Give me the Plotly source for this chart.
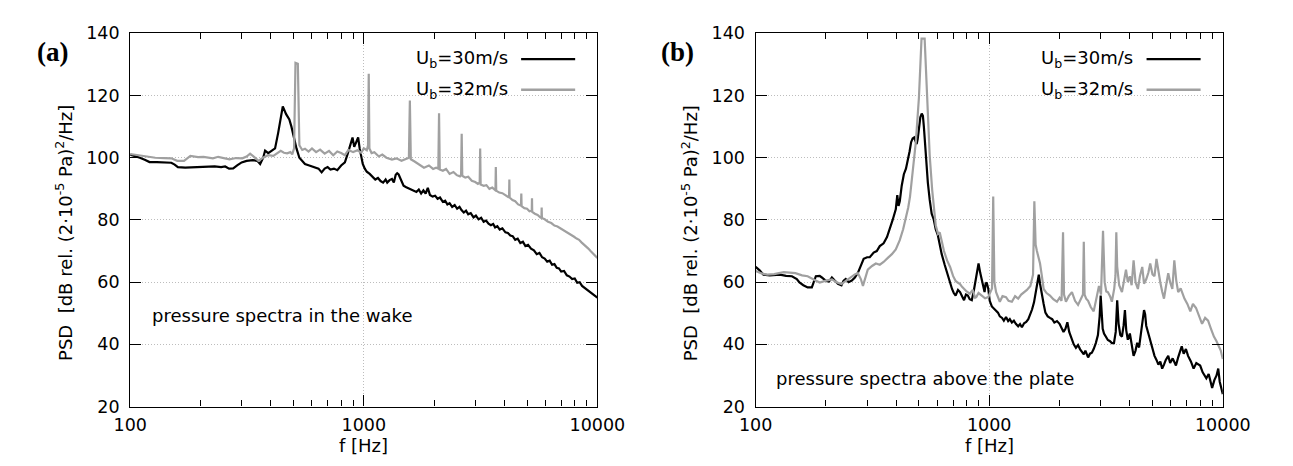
import plotly.graph_objects as go

# ---------------- data ----------------
# panel (a): pressure spectra in the wake
fa_30 = [100,105,110,116,121,130,140,150,155,160,172,185,200,215,230,245,255,265,276,288,300,315,335,350,360,371,378,390,400,417,430,440,450,465,480,490,500,515,530,545,560,580,600,620,640,660,680,700,720,745,770,800,830,855,875,895,910,930,946,960,975,990,1010,1030,1060,1090,1120,1150,1180,1210,1240,1260,1290,1320,1345,1370,1390,1410,1440,1480,1520,1570,1620,1680,1720,1760,1800,1840,1880,1920,1970,2020,2070,2120,2180,2230,2280,2330,2390,2450,2510,2570,2620,2680,2740,2800,2870,2950,3020,3100,3180,3260,3340,3420,3500,3580,3650,3730,3820,3920,4040,4140,4240,4340,4450,4560,4680,4800,4920,5050,5200,5350,5500,5650,5800,5950,6100,6250,6400,6550,6700,6850,7000,7200,7400,7600,7800,8000,8200,8400,8600,8800,9000,9200,9400,9600,9800,10000]
pa_30 = [101.0,100.6,100.0,99.3,98.6,98.6,98.5,98.4,97.8,97.0,96.8,96.9,96.8,97.0,97.2,97.0,97.2,96.5,96.6,97.6,98.5,99.0,99.2,99.0,98.0,100.0,102.3,101.5,102.0,103.0,108.0,113.0,116.5,114.0,112.3,110.0,107.0,103.0,100.0,99.0,98.0,97.6,97.3,97.0,96.5,95.3,96.5,97.0,96.2,96.5,96.0,97.5,98.5,101.5,104.0,106.5,103.5,105.5,106.5,103.0,100.2,98.0,96.5,95.5,94.8,94.0,93.0,93.5,92.5,92.0,93.0,92.0,92.8,93.2,92.0,94.5,95.0,94.6,93.0,91.0,90.5,90.0,89.5,89.0,89.8,88.5,89.5,88.5,90.3,88.0,87.5,87.8,86.8,87.2,85.8,86.2,85.0,85.4,84.2,84.8,83.6,84.2,83.2,82.4,83.0,81.8,82.2,80.8,81.4,80.2,80.7,79.4,79.8,78.8,78.3,78.7,77.6,78.0,76.9,77.3,76.0,75.8,75.0,74.8,73.6,74.0,72.6,73.0,71.6,72.0,70.8,70.2,69.0,69.4,68.0,67.6,66.6,66.9,65.6,65.8,64.6,64.4,63.4,63.6,62.2,61.8,61.0,61.2,59.8,60.0,58.8,58.2,57.6,57.0,56.6,56.0,55.6,55.0]

fa_32 = [100,109,118,128,140,150,159,170,181,195,206,216,226,238,250,266,284,302,315,326,340,354,370,389,410,425,441,455,470,485,494,503,510,522,530,545,560,580,600,625,650,680,710,740,770,800,830,860,900,940,975,1000,1030,1043,1050,1057,1080,1110,1160,1200,1250,1320,1380,1450,1520,1560,1575,1590,1650,1720,1810,1900,1980,2040,2085,2100,2115,2180,2250,2330,2420,2500,2580,2610,2625,2640,2720,2800,2900,3000,3080,3135,3150,3165,3260,3350,3450,3550,3650,3663,3675,3690,3800,3920,4050,4150,4188,4200,4212,4330,4450,4580,4710,4725,4740,4870,5000,5120,5238,5250,5262,5400,5550,5700,5763,5775,5790,5950,6150,6350,6550,6750,6950,7150,7350,7550,7750,7950,8150,8350,8550,8750,8950,9150,9350,9550,9750,10000]
pa_32 = [101.2,100.8,100.5,100.0,99.9,99.8,99.0,99.0,100.6,100.2,100.3,100.0,99.8,100.3,100.0,99.5,99.9,99.8,100.4,101.3,100.2,99.0,100.0,100.8,100.6,101.3,102.2,101.6,101.4,101.8,101.1,103.0,130.5,130.2,104.0,102.5,102.9,102.0,103.0,101.8,102.6,101.3,102.2,100.8,102.0,101.5,100.8,102.5,101.8,102.4,101.6,103.0,102.4,104.0,127.0,103.0,101.5,101.8,100.4,101.0,100.0,99.4,99.8,99.0,99.6,100.0,118.4,99.5,98.8,98.0,96.8,97.5,96.4,96.8,96.5,114.3,96.2,95.8,96.4,94.8,95.4,94.4,94.0,94.6,107.7,94.2,93.6,93.9,92.6,92.2,91.6,92.0,103.0,91.4,91.0,91.2,90.0,90.4,89.6,90.0,97.0,89.4,88.8,88.6,87.8,87.4,87.5,93.0,87.2,86.4,86.0,85.0,84.6,88.5,84.4,83.8,83.6,82.8,83.0,87.0,82.6,82.0,81.6,80.8,81.0,84.0,80.6,80.2,79.4,79.0,78.2,77.9,77.3,77.0,76.4,75.8,75.2,74.6,74.0,73.6,72.8,72.2,71.4,70.8,70.0,69.4,68.6,67.8]

# panel (b): pressure spectra above the plate
fb_30 = [100,104,108,115,127,135,143,150,154,160,167,174,181,188,192,200,206,212,218,225,233,238,243,250,258,266,274,282,290,300,308,320,330,340,353,365,376,386,398,404,409,414,422,431,440,448,456,463,470,477,483,489,494,500,507,514,520,525,531,537,546,556,567,578,590,602,614,626,645,665,680,693,705,718,735,750,765,780,795,810,825,842,860,880,890,900,915,930,945,955,965,975,990,1005,1026,1050,1070,1090,1110,1135,1155,1180,1205,1225,1250,1275,1300,1330,1355,1380,1410,1440,1470,1500,1525,1555,1585,1610,1630,1650,1680,1710,1740,1780,1820,1860,1900,1950,2000,2040,2080,2120,2160,2200,2260,2300,2350,2400,2450,2490,2540,2580,2650,2700,2750,2800,2860,2920,2970,3000,3030,3060,3100,3160,3220,3290,3350,3420,3480,3530,3580,3640,3700,3760,3810,3860,3920,4000,4080,4150,4230,4300,4380,4440,4520,4600,4650,4700,4800,4900,5000,5100,5200,5300,5400,5500,5600,5700,5840,5950,6100,6300,6450,6600,6670,6800,6950,7100,7300,7500,7700,8000,8200,8500,8700,9000,9200,9400,9560,9700,9850,10000]
pb_30 = [64.9,63.8,62.4,62.2,62.4,62.0,61.9,61.0,59.9,59.0,58.3,58.3,61.9,62.0,61.5,60.4,60.2,61.5,60.5,59.5,59.0,60.5,61.0,60.0,60.5,61.5,63.0,65.5,67.5,68.0,68.0,69.5,70.0,71.6,72.5,74.5,77.2,80.0,83.4,88.0,84.5,86.0,91.0,94.7,96.5,98.8,102.0,105.0,106.2,106.5,105.5,104.4,106.0,110.0,113.0,114.2,113.5,110.0,104.0,98.8,92.0,86.5,82.0,80.3,77.0,75.2,72.0,69.0,65.5,61.9,59.5,57.8,56.5,55.7,57.5,56.8,55.5,54.2,56.0,55.7,54.5,54.2,57.5,61.9,64.5,66.0,63.0,60.9,59.0,56.8,59.5,59.9,58.0,54.0,52.2,51.5,50.8,50.2,49.0,48.5,47.6,48.8,47.5,48.1,47.0,47.6,46.6,45.8,46.5,45.5,46.8,47.2,48.1,49.5,51.2,53.5,56.8,60.5,62.4,59.5,56.8,53.0,50.2,49.0,48.5,48.1,47.0,47.5,46.6,45.5,44.0,45.0,47.1,44.0,41.4,40.0,38.9,39.8,38.4,37.5,36.8,38.0,35.8,37.0,37.3,38.5,40.4,43.0,49.0,55.7,50.0,45.0,43.5,42.5,41.4,41.0,40.4,40.4,44.0,54.2,46.6,43.0,42.5,46.0,51.0,44.5,41.5,43.5,40.0,36.3,38.0,40.5,39.0,42.5,46.0,51.0,49.7,46.0,43.5,41.0,38.5,36.3,35.0,33.5,34.5,32.2,33.5,35.0,36.3,34.0,35.5,33.2,36.0,38.0,39.4,37.0,38.5,36.3,34.5,32.2,34.0,33.2,31.0,29.1,30.5,26.0,28.5,30.0,32.2,28.0,25.5,24.0]

fb_32 = [100,106,112,120,132,140,148,158,167,178,188,200,212,222,233,245,258,266,274,282,288,295,302,315,327,340,353,368,383,398,414,428,440,450,458,470,485,500,513,529,541,556,570,580,590,604,614,627,640,660,680,700,718,735,750,765,780,800,826,850,870,880,900,930,960,990,1015,1028,1040,1052,1070,1090,1110,1140,1180,1210,1250,1290,1330,1370,1410,1450,1500,1540,1560,1580,1600,1625,1650,1680,1710,1760,1820,1880,1950,2000,2040,2070,2090,2130,2190,2260,2330,2400,2470,2520,2540,2560,2600,2650,2720,2800,2880,2950,3010,3070,3120,3170,3220,3290,3350,3430,3470,3500,3530,3600,3700,3770,3850,3920,4000,4070,4150,4230,4330,4420,4520,4600,4700,4800,4890,5000,5100,5200,5300,5400,5500,5600,5720,5840,5950,6080,6200,6320,6440,6600,6850,7050,7260,7450,7680,7900,8150,8400,8650,8900,9160,9400,9600,9800,10000]
pb_32 = [63.6,62.8,62.4,62.6,63.2,63.0,62.9,62.2,61.9,60.8,59.9,60.5,60.9,60.0,59.4,60.6,61.9,62.5,62.9,61.0,58.8,61.5,64.0,65.2,66.0,65.6,66.5,67.8,69.0,70.5,73.5,77.0,80.8,84.0,87.5,95.7,105.0,119.3,138.3,138.3,119.3,100.8,89.5,83.5,78.3,75.5,76.0,73.0,70.0,67.0,64.9,62.0,60.4,59.8,59.4,58.5,57.8,57.0,56.3,57.5,55.0,55.2,56.5,55.7,54.8,55.2,56.8,58.0,87.5,60.0,56.8,55.0,53.7,55.5,55.2,54.0,53.7,55.5,54.7,56.0,56.8,57.5,58.8,62.4,86.0,72.0,70.0,68.0,66.0,62.0,57.8,56.5,55.7,54.5,53.7,55.0,54.0,76.0,56.0,53.7,55.5,56.8,54.0,52.7,55.0,56.0,73.0,56.0,54.7,54.0,52.0,50.6,55.0,58.8,56.0,76.5,60.0,57.0,56.8,55.5,53.7,58.0,62.0,76.0,65.0,59.0,56.8,60.5,64.0,60.0,61.9,59.0,67.0,60.0,57.8,62.0,64.9,59.5,60.9,63.0,66.0,62.5,61.9,67.5,63.0,59.9,57.0,54.7,59.0,62.9,60.0,57.8,67.0,60.5,56.8,58.0,54.7,53.0,50.6,53.0,51.7,49.0,46.6,48.5,47.6,45.0,42.5,41.0,39.5,38.0,35.3]

x_ticks = [100, 1000, 10000]
x_minor = [200, 300, 400, 500, 600, 700, 800, 900, 2000, 3000, 4000, 5000, 6000, 7000, 8000, 9000]
y_ticks = [20, 40, 60, 80, 100, 120, 140]
series_names = ["U<sub>b</sub>=30m/s", "U<sub>b</sub>=32m/s"]
panel_labels = ["(a)", "(b)"]
panel_notes = ["pressure spectra in the wake", "pressure spectra above the plate"]
y_title = "PSD  [dB rel. (2·10<sup>-5</sup> Pa)<sup>2</sup>/Hz]"
x_title = "f [Hz]"

# ---------------- layout helpers ----------------
W, H = 1293, 466
FONT = "DejaVu Sans, Liberation Sans, Arial, sans-serif"
BLACK, GRAY = "#000000", "#a0a0a0"

def px(x):
    return x / W

def py(y):
    return 1 - y / H

panels = [
    dict(x0=109, x1=593, data=[(fa_30, pa_30, BLACK), (fa_32, pa_32, GRAY)]),
    dict(x0=757, x1=1241, data=[(fb_30, pb_30, BLACK), (fb_32, pb_32, GRAY)]),
]
TOP, BOT = 16, 406

fig = go.Figure()
annotations = []
shapes = []

for i, p in enumerate(panels):
    suf = "" if i == 0 else str(i + 1)
    for (fx, fy, col) in p["data"]:
        fig.add_trace(go.Scatter(x=fx, y=fy, mode="lines",
                                 line=dict(color=col, width=2.2),
                                 xaxis="x" + suf, yaxis="y" + suf,
                                 showlegend=False, hoverinfo="skip"))
    axis_common = dict(showline=True, linecolor="black", linewidth=1.3, mirror="ticks",
                       ticks="inside", ticklen=11, tickwidth=1.1, tickcolor="black",
                       showgrid=True, gridcolor="#bdbdbd", griddash="1px,2px", gridwidth=1,
                       zeroline=False, tickfont=dict(family=FONT, size=17.5, color="black"))
    fig.update_layout(**{
        "xaxis" + suf: dict(axis_common, type="log", range=[2, 4],
                            domain=[px(p["x0"]), px(p["x1"])],
                            tickvals=x_ticks, ticktext=[str(v) for v in x_ticks],
                            anchor="y" + suf, ticklabelstandoff=2,
                            minor=dict(tickvals=x_minor, ticks="inside", ticklen=6,
                                       tickwidth=1.1, tickcolor="black", showgrid=False)),
        "yaxis" + suf: dict(axis_common, range=[20, 140],
                            domain=[py(BOT), py(TOP)],
                            tickvals=y_ticks, anchor="x" + suf, ticklabelstandoff=6),
    })
    # panel label
    annotations.append(dict(x=px(p["x0"] - 81), y=py(36), xref="paper", yref="paper",
                            text="<b>" + panel_labels[i] + "</b>", showarrow=False,
                            xanchor="center", yanchor="middle",
                            font=dict(family="Liberation Serif, DejaVu Serif, serif", size=27, color="black")))
    # y title
    annotations.append(dict(x=px(p["x0"] - 68), y=py(225), xref="paper", yref="paper",
                            text=y_title, showarrow=False, textangle=-90,
                            xanchor="center", yanchor="middle",
                            font=dict(family=FONT, size=18, color="black")))
    # x title
    annotations.append(dict(x=px((p["x0"] + p["x1"]) / 2), y=py(447), xref="paper", yref="paper",
                            text=x_title, showarrow=False, xanchor="center", yanchor="middle",
                            font=dict(family=FONT, size=18, color="black")))
    # note
    note_pos = [(129, 311), (776, 377)][i]
    annotations.append(dict(x=px(note_pos[0]), y=py(note_pos[1]), xref="paper", yref="paper",
                            text=panel_notes[i], showarrow=False, xanchor="left", yanchor="middle",
                            font=dict(family=FONT, size=18, color="black")))
    # legend
    for k, (name, col) in enumerate(zip(series_names, [BLACK, GRAY])):
        ly = [43, 75][k]
        annotations.append(dict(x=px(p["x1"] - 91), y=py(ly), xref="paper", yref="paper",
                                text=name, showarrow=False, xanchor="right", yanchor="middle",
                                font=dict(family=FONT, size=18, color="black")))
        shapes.append(dict(type="line", xref="paper", yref="paper",
                           x0=px(p["x1"] - 79), x1=px(p["x1"] - 23), y0=py(ly), y1=py(ly),
                           line=dict(color=col, width=2.4)))

fig.update_layout(width=W, height=H, margin=dict(l=0, r=0, t=0, b=0),
                  paper_bgcolor="white", plot_bgcolor="white",
                  annotations=annotations, shapes=shapes,
                  font=dict(family=FONT, size=17, color="black"))

fig.write_html("out.html")
